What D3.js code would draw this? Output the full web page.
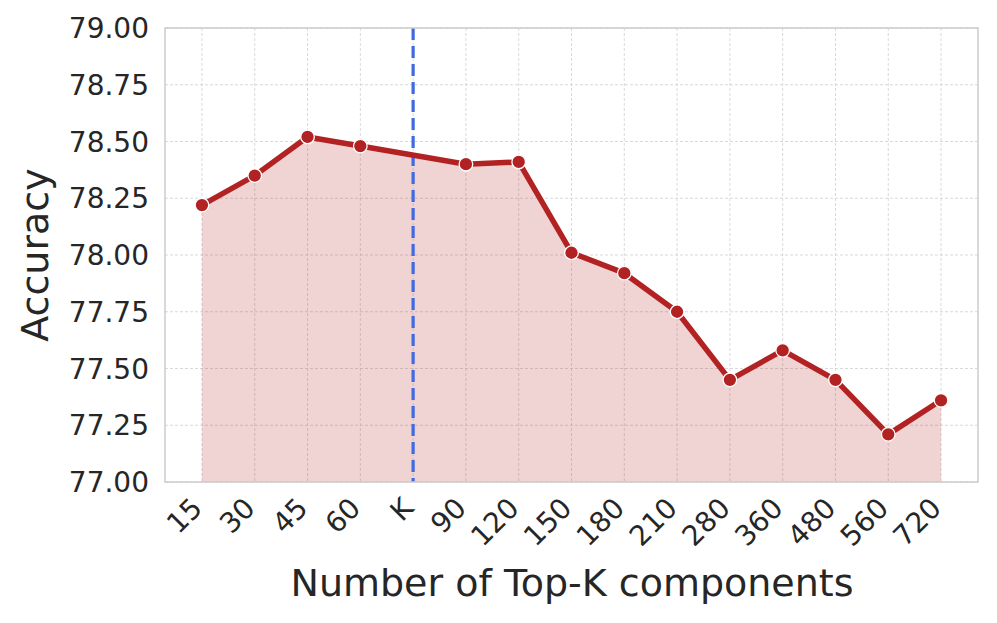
<!DOCTYPE html>
<html lang="en">
<head>
  <meta charset="UTF-8">
  <title>Top-K components</title>
  <style>
    body, html { margin: 0; padding: 0; background: #fff; }
    svg { display: block; }
  </style>
</head>
<body>
  <svg id="svg" width="997" height="623"></svg>
  <script src="https://d3js.org/d3.v7.min.js"></script>
  <script>
    const width = 997
    const height = 623
    const margin = { top: 28, right: 19, bottom: 141, left: 165 }

    // categories on the x axis (K has no measurement, only the marker line)
    const categories = ['15', '30', '45', '60', 'K', '90', '120', '150', '180', '210', '280', '360', '480', '560', '720']
    const pointLabels = ['15', '30', '45', '60', '90', '120', '150', '180', '210', '280', '360', '480', '560', '720']
    const accuracy = [78.22, 78.35, 78.52, 78.48, 78.40, 78.41, 78.01, 77.92, 77.75, 77.45, 77.58, 77.45, 77.21, 77.36]
    const yTicks = [77.00, 77.25, 77.50, 77.75, 78.00, 78.25, 78.50, 78.75, 79.00]
    const markerCategory = 'K'

    const data = pointLabels.map((d, i) => ({ label: d, value: accuracy[i] }))

    const svg = d3.select('#svg')
    const innerW = width - margin.left - margin.right
    const innerH = height - margin.top - margin.bottom
    const g = svg.append('g').attr('transform', `translate(${margin.left},${margin.top})`)

    const x = d3.scalePoint().domain(categories).range([0, innerW]).padding(0.7)
    const y = d3.scaleLinear().domain([77, 79]).range([innerH, 0])

    const font = 'DejaVu Sans, sans-serif'
    const red = '#b22222'

    // grid
    g.append('g').selectAll('line.h')
      .data(yTicks)
      .join('line')
      .attr('x1', 0).attr('x2', innerW)
      .attr('y1', d => y(d)).attr('y2', d => y(d))
      .attr('stroke', '#cfcfcf').attr('stroke-width', 0.8)
      .attr('stroke-dasharray', '3,2')
    g.append('g').selectAll('line.v')
      .data(categories)
      .join('line')
      .attr('x1', d => x(d)).attr('x2', d => x(d))
      .attr('y1', 0).attr('y2', innerH)
      .attr('stroke', '#cfcfcf').attr('stroke-width', 0.8)
      .attr('stroke-dasharray', '3,2')

    // area fill
    const area = d3.area()
      .x(d => x(d.label))
      .y0(innerH)
      .y1(d => y(d.value))
    g.append('path')
      .datum(data)
      .attr('d', area)
      .attr('fill', red)
      .attr('fill-opacity', 0.2)

    // K marker line
    g.append('line')
      .attr('x1', x(markerCategory)).attr('x2', x(markerCategory))
      .attr('y1', 0).attr('y2', innerH)
      .attr('stroke', '#4169e1')
      .attr('stroke-width', 3.2)
      .attr('stroke-dasharray', '12,6')

    // line + markers
    const line = d3.line()
      .x(d => x(d.label))
      .y(d => y(d.value))
    g.append('path')
      .datum(data)
      .attr('d', line)
      .attr('fill', 'none')
      .attr('stroke', red)
      .attr('stroke-width', 5.5)
      .attr('stroke-linejoin', 'round')

    g.selectAll('circle')
      .data(data)
      .join('circle')
      .attr('cx', d => x(d.label))
      .attr('cy', d => y(d.value))
      .attr('r', 6.8)
      .attr('fill', red)
      .attr('stroke', '#fff')
      .attr('stroke-width', 1.3)

    // frame
    g.append('rect')
      .attr('width', innerW).attr('height', innerH)
      .attr('fill', 'none')
      .attr('stroke', '#cccccc')
      .attr('stroke-width', 1.5)

    // y tick labels
    g.append('g').selectAll('text')
      .data(yTicks)
      .join('text')
      .attr('x', -16)
      .attr('y', d => y(d))
      .attr('dy', '0.36em')
      .attr('text-anchor', 'end')
      .attr('font-family', font)
      .attr('font-size', 28)
      .attr('fill', '#262626')
      .text(d => d.toFixed(2))

    // x tick labels, rotated
    g.append('g').selectAll('text')
      .data(categories)
      .join('text')
      .attr('transform', d => `translate(${x(d) - 12},${innerH + 14}) rotate(-45)`)
      .attr('text-anchor', 'end')
      .attr('dy', '0.7em')
      .attr('font-family', font)
      .attr('font-size', 28)
      .attr('fill', '#262626')
      .text(d => d)

    // axis titles
    svg.append('text')
      .attr('x', 572)
      .attr('y', 596)
      .attr('text-anchor', 'middle')
      .attr('font-family', font)
      .attr('font-size', 38)
      .attr('fill', '#262626')
      .text('Number of Top-K components')

    svg.append('text')
      .attr('transform', `translate(48,${margin.top + innerH / 2}) rotate(-90)`)
      .attr('text-anchor', 'middle')
      .attr('font-family', font)
      .attr('font-size', 38)
      .attr('fill', '#262626')
      .text('Accuracy')
  </script>
</body>
</html>
